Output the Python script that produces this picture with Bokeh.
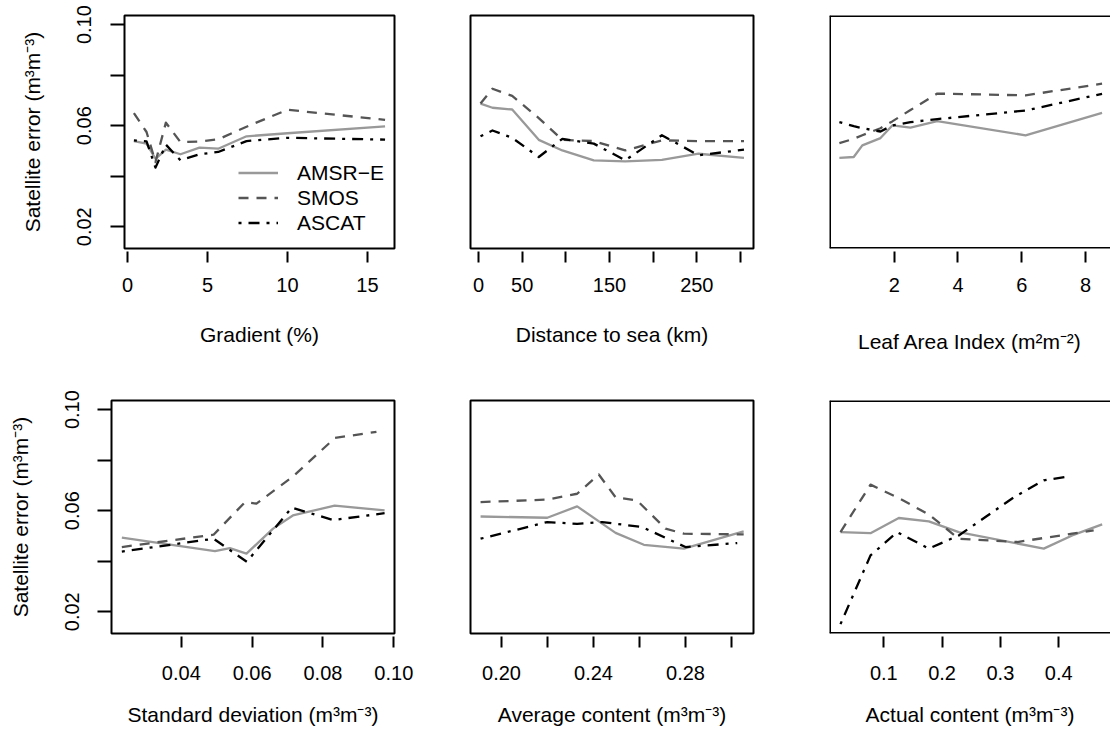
from bokeh.plotting import figure
from bokeh.models import Range1d, FixedTicker, Legend, LegendItem, Span
from bokeh.layouts import column, row
from bokeh.embed import file_html
from bokeh.resources import INLINE

# ---------------- data ----------------
series_names = ["AMSR\u2212E", "SMOS", "ASCAT"]

y_ticks = [0.02, 0.04, 0.06, 0.08, 0.10]
y_tick_labels = ["0.02", "", "0.06", "", "0.10"]

# Gradient (%)
grad_x = [0.40, 1.19, 1.75, 2.40, 3.31, 4.50, 5.67, 7.44, 10.0, 16.1]
grad_amsr = [0.0539, 0.0529, 0.0469, 0.0505, 0.0487, 0.0513, 0.0509, 0.0558, 0.0570, 0.0597]
grad_smos = [0.0650, 0.0575, 0.0456, 0.0612, 0.0535, 0.0537, 0.0546, 0.0596, 0.0663, 0.0623]
grad_ascat = [0.0542, 0.0538, 0.0434, 0.0525, 0.0463, 0.0487, 0.0496, 0.0539, 0.0552, 0.0545]
grad_ticks = [0, 5, 10, 15]
grad_tick_labels = ["0", "5", "10", "15"]

# Distance to sea (km)
dist_x = [2.3, 16.0, 38.6, 69.0, 96.0, 132.0, 168.0, 210.0, 252.0, 304.0]
dist_amsr = [0.0687, 0.0671, 0.0664, 0.0544, 0.0502, 0.0463, 0.0459, 0.0465, 0.0489, 0.0473]
dist_smos = [0.0688, 0.0746, 0.0718, 0.0630, 0.0544, 0.0539, 0.0502, 0.0542, 0.0539, 0.0539]
dist_ascat = [0.0558, 0.0581, 0.0552, 0.0476, 0.0548, 0.0529, 0.0463, 0.0562, 0.0483, 0.0505]
dist_ticks = [0, 50, 100, 150, 200, 250, 300]
dist_tick_labels = ["0", "50", "", "150", "", "250", ""]

# Leaf Area Index
lai_x = [0.28, 0.73, 1.00, 1.57, 1.94, 2.51, 3.35, 6.12, 8.52]
lai_amsr = [0.0473, 0.0476, 0.0522, 0.0551, 0.0601, 0.0592, 0.0618, 0.0562, 0.0651]
lai_smos = [0.0531, 0.0548, 0.0562, 0.0590, 0.0617, 0.0662, 0.0727, 0.0720, 0.0766]
lai_ascat = [0.0614, 0.0598, 0.0590, 0.0577, 0.0601, 0.0614, 0.0626, 0.0660, 0.0726]
lai_ticks = [2, 4, 6, 8]
lai_tick_labels = ["2", "4", "6", "8"]

# Standard deviation
sd_amsr_x = [0.0232, 0.0495, 0.0537, 0.0584, 0.0659, 0.0715, 0.0833, 0.0974]
sd_amsr = [0.0493, 0.0440, 0.0452, 0.0430, 0.0529, 0.0581, 0.0620, 0.0601]
sd_smos_x = [0.0232, 0.0491, 0.0580, 0.0612, 0.0715, 0.0834, 0.0951]
sd_smos = [0.0456, 0.0505, 0.0634, 0.0628, 0.0735, 0.0888, 0.0912]
sd_ascat_x = [0.0232, 0.0491, 0.0585, 0.0712, 0.0829, 0.0974]
sd_ascat = [0.0438, 0.0489, 0.0398, 0.0612, 0.0563, 0.0590]
sd_ticks = [0.04, 0.06, 0.08, 0.10]
sd_tick_labels = ["0.04", "0.06", "0.08", "0.10"]

# Average content
avg_amsr_x = [0.1909, 0.2199, 0.2329, 0.2496, 0.2619, 0.2793, 0.3053]
avg_amsr = [0.0577, 0.0572, 0.0617, 0.0512, 0.0465, 0.0450, 0.0518]
avg_smos_x = [0.1909, 0.2199, 0.2329, 0.2423, 0.2496, 0.2590, 0.2713, 0.2793, 0.3053]
avg_smos = [0.0634, 0.0644, 0.0667, 0.0743, 0.0653, 0.0640, 0.0529, 0.0509, 0.0506]
avg_ascat_x = [0.1909, 0.2199, 0.2329, 0.2438, 0.2612, 0.2800, 0.3025]
avg_ascat = [0.0489, 0.0555, 0.0548, 0.0555, 0.0535, 0.0456, 0.0472]
avg_ticks = [0.20, 0.22, 0.24, 0.26, 0.28, 0.30]
avg_tick_labels = ["0.20", "", "0.24", "", "0.28", ""]

# Actual content
act_amsr_x = [0.0257, 0.0772, 0.1257, 0.1772, 0.2286, 0.3744, 0.4231, 0.4746]
act_amsr = [0.0515, 0.0511, 0.0571, 0.0558, 0.0515, 0.0450, 0.0502, 0.0546]
act_smos_x = [0.0257, 0.0772, 0.1257, 0.1772, 0.2286, 0.3290, 0.4231, 0.4600]
act_smos = [0.0515, 0.0703, 0.0650, 0.0585, 0.0489, 0.0476, 0.0509, 0.0522]
act_ascat_x = [0.0257, 0.0772, 0.1230, 0.1772, 0.2286, 0.2744, 0.3230, 0.3744, 0.4202]
act_ascat = [0.0151, 0.0423, 0.0515, 0.0450, 0.0502, 0.0575, 0.0653, 0.0720, 0.0737]
act_ticks = [0.1, 0.2, 0.3, 0.4]
act_tick_labels = ["0.1", "0.2", "0.3", "0.4"]

# ---------------- style ----------------
FONT = "Liberation Sans"
TICK_FS = "20px"
LAB_FS = "21px"
Y_RANGE = (0.0114, 0.1036)
FRAME_H = 233
colors = ["#999999", "#555555", "#000000"]
dashes = ["solid", "10 8", "3 7 11 7"]
LW = 2.3


def panel(width, height, bl, br, bt, bb, xr, xticks, xlabels, xlabel,
          series, show_y=False, sx1=15, sx2=28, sy1=19, sy2=31, open_right=False):
    p = figure(width=width, height=height, x_range=Range1d(*xr), y_range=Range1d(*Y_RANGE),
               output_backend="svg", toolbar_location=None,
               y_axis_location="left" if show_y else None,
               min_border_left=bl, min_border_right=br, min_border_top=bt, min_border_bottom=bb)
    p.xgrid.visible = False
    p.ygrid.visible = False
    p.background_fill_color = "white"
    p.border_fill_color = "white"
    if open_right:
        # box without its right side (the reference is cut at the window edge)
        p.outline_line_color = None
        p.outline_line_alpha = 0
        p.outline_line_width = 0
        frame_w = width - bl - br
        dy = (Y_RANGE[1] - Y_RANGE[0]) / FRAME_H
        dx = (xr[1] - xr[0]) / frame_w
        for loc, dim in ((Y_RANGE[1] - 0.5 * dy, "width"), (Y_RANGE[0] + 0.5 * dy, "width"),
                         (xr[0] + 0.5 * dx, "height")):
            p.add_layout(Span(location=loc, dimension=dim, line_color="black", line_width=2))
    else:
        p.outline_line_color = "black"
        p.outline_line_width = 2
        p.outline_line_alpha = 1

    ax = p.xaxis[0]
    ax.ticker = FixedTicker(ticks=xticks)
    ax.major_label_overrides = dict(zip(xticks, xlabels))
    ax.axis_line_color = None
    ax.major_tick_line_color = "black"
    ax.major_tick_line_width = 2
    ax.major_tick_in = -3
    ax.major_tick_out = 14
    ax.minor_tick_line_color = None
    ax.major_label_text_font = FONT
    ax.major_label_text_font_size = TICK_FS
    ax.major_label_text_color = "black"
    ax.major_label_standoff = sx1
    ax.axis_label = xlabel
    ax.axis_label_text_font = FONT
    ax.axis_label_text_font_size = LAB_FS
    ax.axis_label_text_font_style = "normal"
    ax.axis_label_text_color = "black"
    ax.axis_label_standoff = sx2

    if show_y:
        ay = p.yaxis[0]
        ay.ticker = FixedTicker(ticks=y_ticks)
        ay.major_label_overrides = dict(zip(y_ticks, y_tick_labels))
        ay.axis_line_color = None
        ay.major_tick_line_color = "black"
        ay.major_tick_line_width = 2
        ay.major_tick_in = 0
        ay.major_tick_out = 14
        ay.minor_tick_line_color = None
        ay.major_label_orientation = "vertical"
        ay.major_label_text_font = FONT
        ay.major_label_text_font_size = TICK_FS
        ay.major_label_text_color = "black"
        ay.major_label_standoff = sy1
        ay.axis_label = "Satellite error (m\u00b3m\u207b\u00b3)"
        ay.axis_label_text_font = FONT
        ay.axis_label_text_font_size = LAB_FS
        ay.axis_label_text_font_style = "normal"
        ay.axis_label_text_color = "black"
        ay.axis_label_standoff = sy2

    rends = []
    for (xs, ys), c, d in zip(series, colors, dashes):
        r = p.line(xs, ys, line_color=c, line_width=LW, line_dash=d, line_join="round")
        rends.append(r)
    return p, rends


TOP_H, BOT_H = 365, 370

p1, r1 = panel(432, TOP_H, 124, 38, 15, 117, (-0.1875, 16.69), grad_ticks, grad_tick_labels,
               "Gradient (%)",
               [(grad_x, grad_amsr), (grad_x, grad_smos), (grad_x, grad_ascat)],
               show_y=True, sy1=19, sy2=31)
legend = Legend(items=[LegendItem(label=n, renderers=[r]) for n, r in zip(series_names, r1)],
                location=(114, 13), orientation="vertical",
                label_text_font=FONT, label_text_font_size=LAB_FS, label_text_color="black",
                glyph_width=40, glyph_height=25, label_height=25, label_standoff=19,
                spacing=0, padding=0, margin=0,
                border_line_color=None, background_fill_alpha=0)
p1.add_layout(legend)

p2, _ = panel(359, TOP_H, 38, 38, 15, 117, (-9.16, 314.9), dist_ticks, dist_tick_labels,
              "Distance to sea (km)",
              [(dist_x, dist_amsr), (dist_x, dist_smos), (dist_x, dist_ascat)])

p3, _ = panel(319, TOP_H, 38, 0, 15, 117, (-0.03, 8.785), lai_ticks, lai_tick_labels,
              "Leaf Area Index (m\u00b2m\u207b\u00b2)",
              [(lai_x, lai_amsr), (lai_x, lai_smos), (lai_x, lai_ascat)],
              sx2=35, open_right=True)

p4, _ = panel(432, BOT_H, 111, 38, 35, 102, (0.02028, 0.1002), sd_ticks, sd_tick_labels,
              "Standard deviation (m\u00b3m\u207b\u00b3)",
              [(sd_amsr_x, sd_amsr), (sd_smos_x, sd_smos), (sd_ascat_x, sd_ascat)],
              show_y=True, sx1=18, sx2=20, sy1=18, sy2=31)

p5, _ = panel(359, BOT_H, 38, 38, 35, 102, (0.18652, 0.30957), avg_ticks, avg_tick_labels,
              "Average content (m\u00b3m\u207b\u00b3)",
              [(avg_amsr_x, avg_amsr), (avg_smos_x, avg_smos), (avg_ascat_x, avg_ascat)],
              sx1=18, sx2=20)

p6, _ = panel(319, BOT_H, 38, 0, 35, 102, (0.00686, 0.4889), act_ticks, act_tick_labels,
              "Actual content (m\u00b3m\u207b\u00b3)",
              [(act_amsr_x, act_amsr), (act_smos_x, act_smos), (act_ascat_x, act_ascat)],
              sx1=18, sx2=20, open_right=True)

layout = column(row(p1, p2, p3), row(p4, p5, p6))

open("out.html", "w").write(file_html(layout, INLINE))
